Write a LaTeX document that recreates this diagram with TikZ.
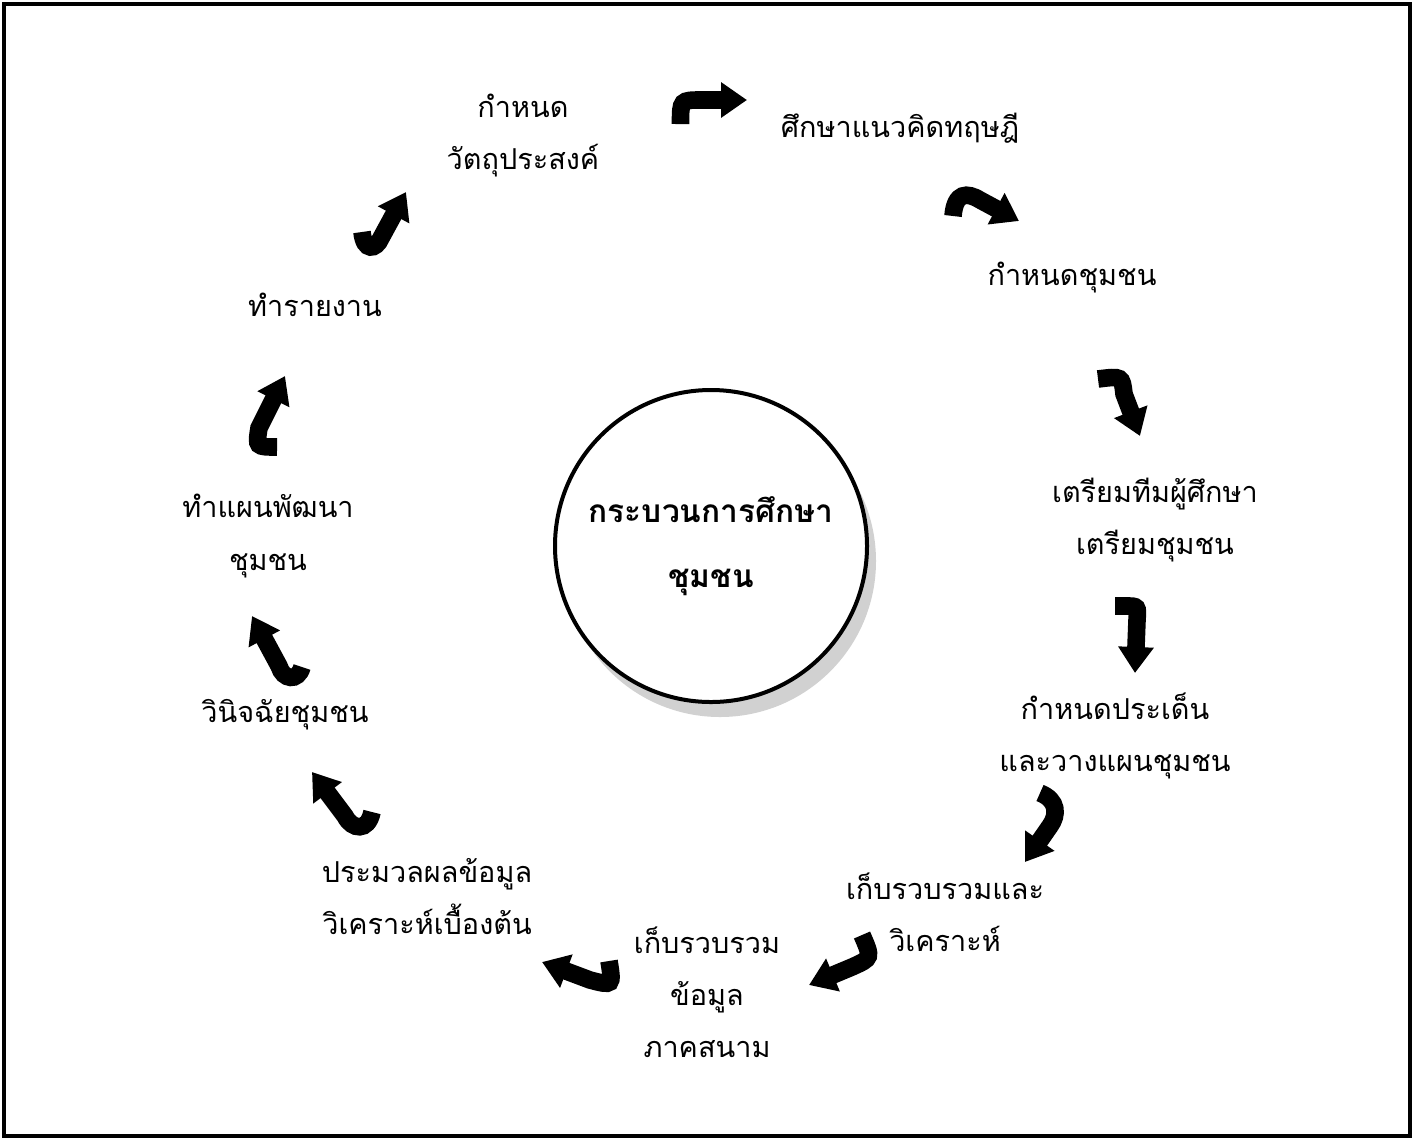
\documentclass[tikz,border=0pt]{standalone}
\usepackage{fontspec}
\newfontfamily\thai[Script=Thai]{Loma}
\usetikzlibrary{arrows.meta}

\tikzset{
  lbl/.style={font=\thai\fontsize{20.5}{37}\selectfont, align=center, inner sep=0pt},
  bentarrow/.style={line width=4.4mm, -{Triangle[length=6.5mm,width=8.5mm]}},
}

\begin{document}
\begin{tikzpicture}[x=0.25mm, y=-0.25mm]
        \useasboundingbox (0,0) rectangle (1415,1140);
        \draw[line width=1mm] (4,4) rectangle (1410,1136);

        \fill[black!18] (720,561) circle (156);
        \node[draw, circle, line width=1mm, fill=white, minimum size=78mm, align=center,
              font=\thai\bfseries\fontsize{22.5}{46}\selectfont] (core) at (711,546) {กระบวนการศึกษา\\ชุมชน};

        \node[lbl] (objective) at (523,136) {กำหนด\\วัตถุประสงค์};
        \node[lbl] (theory) at (900,128) {ศึกษาแนวคิดทฤษฎี};
        \node[lbl] (community) at (1072,278) {กำหนดชุมชน};
        \node[lbl] (prepare) at (1155,520) {เตรียมทีมผู้ศึกษา\\เตรียมชุมชน};
        \node[lbl] (issue) at (1115,736) {กำหนดประเด็น\\และวางแผนชุมชน};
        \node[lbl] (collect) at (945,912) {เก็บรวบรวมและ\\วิเคราะห์};
        \node[lbl] (field) at (707,992) {เก็บรวบรวม\\ข้อมูล\\ภาคสนาม};
        \node[lbl] (process) at (427,897) {ประมวลผลข้อมูล\\วิเคราะห์เบื้องต้น};
        \node[lbl] (diagnose) at (285,715) {วินิจฉัยชุมชน};
        \node[lbl] (plan) at (268,536) {ทำแผนพัฒนา\\ชุมชน};
        \node[lbl] (report) at (315,305) {ทำรายงาน};

        \draw[bentarrow] (680.5,124) .. controls (680.5,100) .. (702,100) -- (747,100);
        \draw[bentarrow] (953,216) .. controls (955,192) and (967,192) .. (980,200) -- (1019,221);
        \draw[bentarrow] (1098,379) .. controls (1122,376) .. (1124,394) -- (1140,436);
        \draw[bentarrow] (1115,606) -- (1126,606) .. controls (1138,606) .. (1137,620) -- (1135,673);
        \draw[bentarrow] (1040,793) .. controls (1058,800) and (1058,815) .. (1050,826) -- (1025,862);
        \draw[bentarrow] (862,935) .. controls (872,958) .. (852,967) -- (809,985);
        \draw[bentarrow] (609,961) .. controls (613,986) .. (590,980) -- (542,962);
        \draw[bentarrow] (372,812) .. controls (368,832) and (352,830) .. (345,816) -- (312,772);
        \draw[bentarrow] (302,667) .. controls (298,682) and (283,680) .. (279,666) -- (252,616);
        \draw[bentarrow] (277,447) .. controls (256,447) .. (259,428) -- (285,376);
        \draw[bentarrow] (362,232) .. controls (364,252) and (376,250) .. (381,238) -- (406,192);
    \end{tikzpicture}
\end{document}
